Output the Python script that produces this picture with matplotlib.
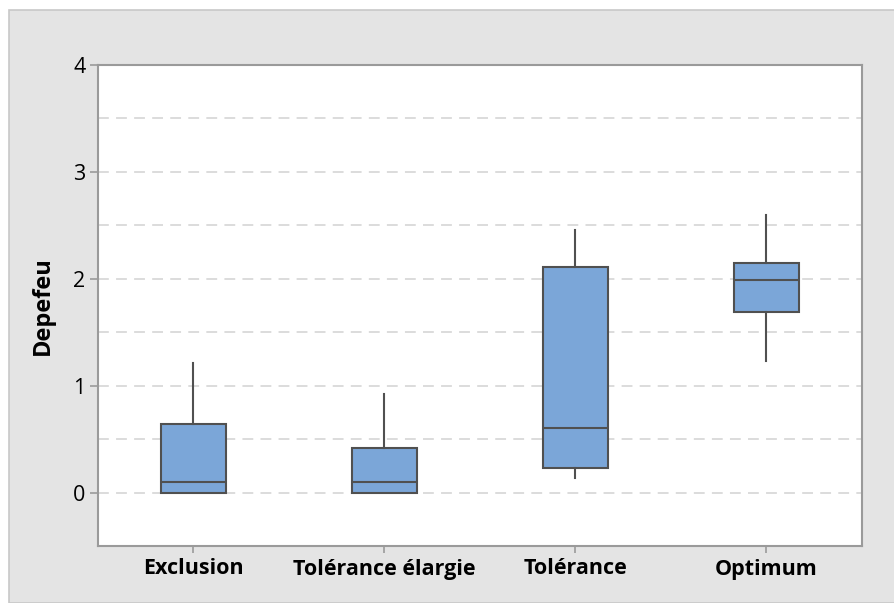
import matplotlib
matplotlib.use("Agg")
import matplotlib.pyplot as plt
from matplotlib.patches import Rectangle
import numpy as np

plt.rcParams['font.family'] = ['Open Sans', 'DejaVu Sans']

# Five-number summaries of Depefeu for each group
categories = ["Exclusion", "Tolérance élargie", "Tolérance", "Optimum"]
whisker_low = [0.0, 0.0, 0.14, 1.23]
q1 = [0.0, 0.0, 0.23, 1.69]
median = [0.10, 0.10, 0.60, 1.99]
q3 = [0.64, 0.42, 2.11, 2.15]
whisker_high = [1.21, 0.92, 2.46, 2.60]

y_ticks = [0, 1, 2, 3, 4]

W, H = 895, 603
fig = plt.figure(figsize=(W / 100, H / 100), dpi=100, facecolor="white")

# grey panel behind the chart
fig.patches.append(Rectangle((9 / W, 0), 1 - 9 / W, (H - 10) / H,
                             transform=fig.transFigure, facecolor="#e4e4e4",
                             edgecolor="#c8c8c8", linewidth=1.2, zorder=-10))

ax = fig.add_axes([98 / W, (H - 546) / H, (862 - 98) / W, (546 - 65) / H])
ax.set_facecolor("white")

stats = []
for i, name in enumerate(categories):
    stats.append(dict(label=name, whislo=whisker_low[i], q1=q1[i], med=median[i],
                      q3=q3[i], whishi=whisker_high[i], fliers=[]))

edge = "#505050"
ax.bxp(stats, positions=np.arange(1, len(categories) + 1), widths=0.34,
       patch_artist=True, showcaps=False, showfliers=False,
       boxprops=dict(facecolor="#7ba6d8", edgecolor=edge, linewidth=1.5),
       medianprops=dict(color=edge, linewidth=1.5),
       whiskerprops=dict(color=edge, linewidth=1.5),
       zorder=3)

ax.set_xlim(0.5, 4.5)
ax.set_ylim(-0.5, 4)
ax.set_yticks(y_ticks)
ax.set_yticklabels([str(t) for t in y_ticks])
ax.set_xticks(np.arange(1, len(categories) + 1))
ax.set_xticklabels(categories, fontweight="bold")

# dashed reference lines every half unit
for g in np.arange(0, 4, 0.5):
    ax.axhline(g, color="#d9d9d9", linewidth=1.3, linestyle=(0, (6, 4)), zorder=1)

for s in ax.spines.values():
    s.set_color("#9a9a9a")
    s.set_linewidth(1.5)

ax.tick_params(axis="y", length=6, width=1.2, color="#9a9a9a", labelsize=15.5,
               labelcolor="black", pad=3)
ax.tick_params(axis="x", length=5, width=1.2, color="#9a9a9a", labelsize=15.5,
               labelcolor="black", pad=4)

ax.set_ylabel("Depefeu", fontsize=17, fontweight="bold", labelpad=13)

fig.savefig("out.png", dpi=100, facecolor=fig.get_facecolor())
